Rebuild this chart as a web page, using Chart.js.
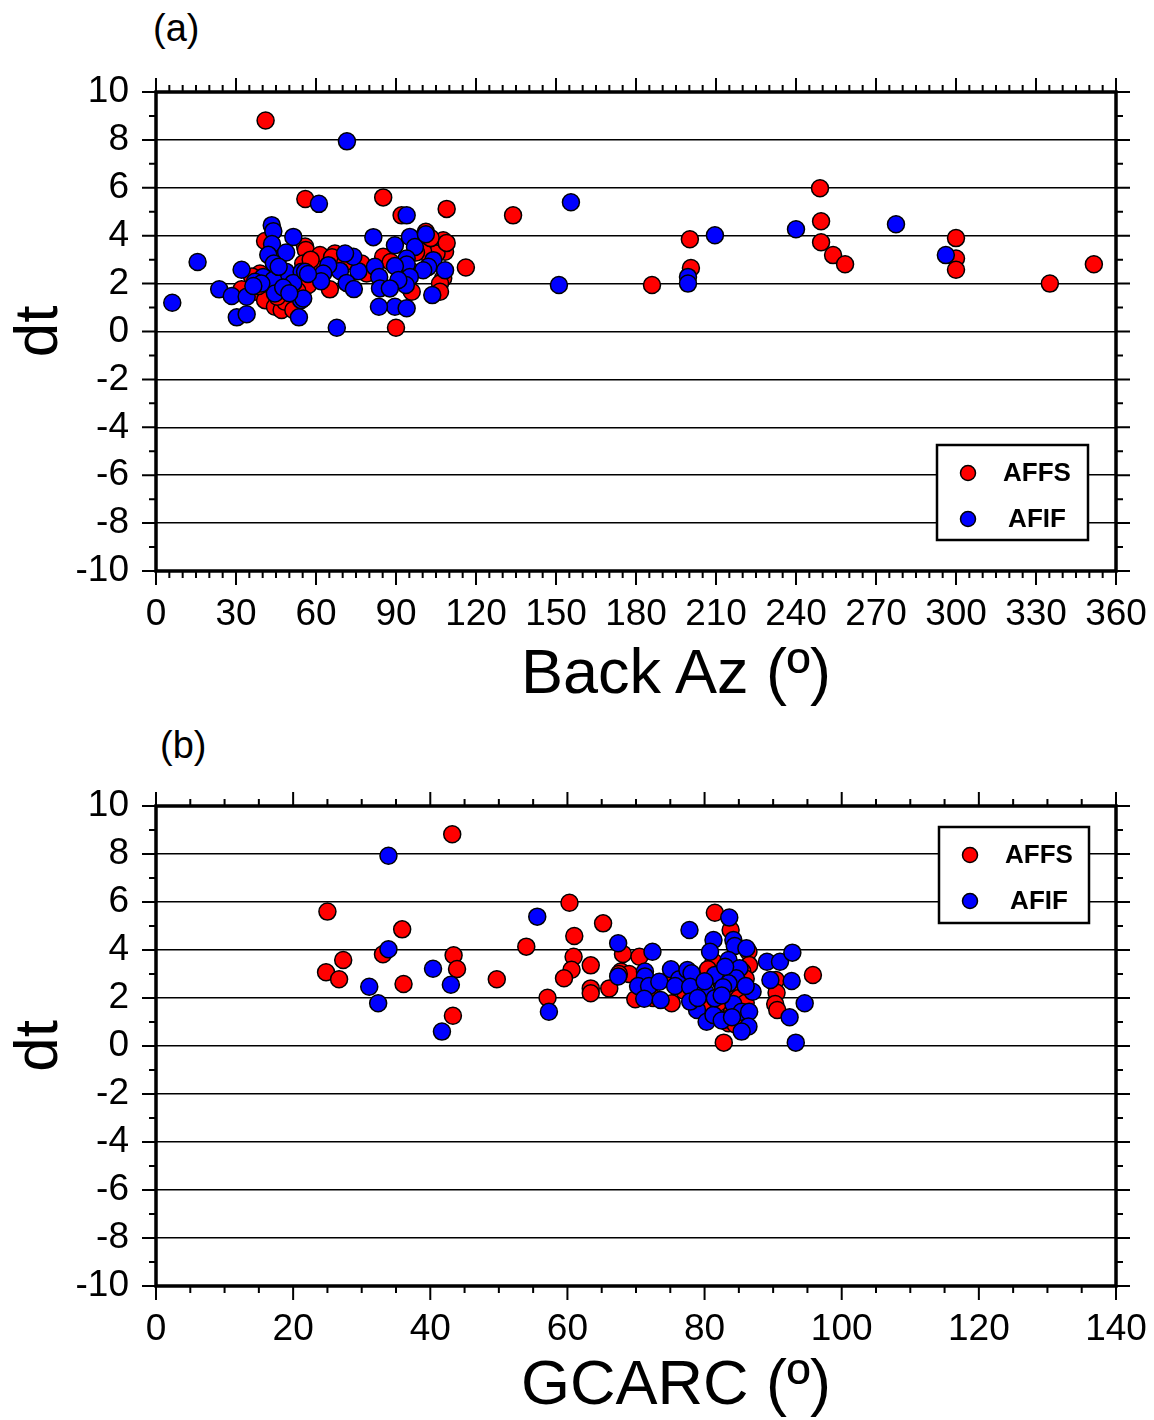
<!DOCTYPE html>
<html>
<head>
<meta charset="utf-8">
<script src="https://cdn.jsdelivr.net/npm/chart.js@4/dist/chart.umd.min.js"></script>
<style>
  body { margin: 0; background: #fff; }
  #wrap { position: relative; width: 1154px; height: 1420px; }
  canvas { position: absolute; left: 0; }
  .panel { position: absolute; font-family: 'Liberation Sans', Arial, sans-serif; font-size: 38px; line-height: 44px; color: #000; }
  .xtitle { position: absolute; left: 376px; width: 600px; text-align: center; font-family: 'Liberation Sans', Arial, sans-serif; font-size: 63px; line-height: 72px; color: #000; }
</style>
</head>
<body>
<div id="wrap">
  <div class="panel" style="left:153px; top:6px;">(a)</div>
  <canvas id="chartA" width="1154" height="710" style="top:0px;"></canvas>
  <div class="xtitle" style="top:635px;">Back Az (º)</div>
  <div class="panel" style="left:160px; top:723px;">(b)</div>
  <canvas id="chartB" width="1154" height="710" style="top:710px;"></canvas>
  <div class="xtitle" style="top:1346px;">GCARC (º)</div>
</div>
<script>
// panel (a): back azimuth vs dt
const bazAFFS = [41.1, 56.0, 85.2, 92.1, 109.0, 116.2, 133.9, 186.0, 200.2, 200.6,
    249.0, 249.4, 249.4, 253.9, 258.4, 300.0, 300.0, 300.0, 335.2, 351.7,
    40.9, 55.9, 56.2, 39.0, 55.9, 32.1, 37.1, 40.9, 44.6, 47.1,
    48.4, 51.5, 90.0, 101.2, 107.7, 108.4, 104.0, 105.2, 100.2, 107.7,
    106.5, 106.5, 85.2, 95.9, 79.0, 77.1, 67.1, 61.5, 57.1, 65.2,
    46.5, 55.2, 66.0, 49.0, 42.5, 36.0, 60.5, 71.0, 88.0, 97.5,
    92.0, 45.5, 53.0, 38.5, 58.0, 103.0, 109.0, 96.0];
const dtAFFS_a = [8.81, 5.53, 5.60, 4.85, 5.12, 2.67, 4.85, 1.94, 3.85, 2.65,
    5.98, 4.60, 3.73, 3.19, 2.81, 3.90, 3.05, 2.58, 2.00, 2.81,
    3.78, 3.55, 3.40, 2.42, 2.80, 1.76, 1.66, 1.31, 1.03, 0.90,
    1.24, 0.90, 0.16, 4.16, 3.81, 3.33, 3.53, 3.26, 3.33, 2.22,
    2.00, 1.66, 3.12, 1.66, 2.42, 2.84, 3.26, 3.19, 1.94, 1.76,
    3.19, 2.84, 3.10, 2.20, 2.00, 2.30, 2.60, 2.90, 2.90, 3.30,
    2.30, 1.45, 1.70, 1.90, 3.00, 3.90, 3.70, 2.50];

const bazAFIF = [71.6, 61.1, 155.6, 151.1, 199.5, 199.5, 209.6, 240.0, 277.5, 296.2,
    43.4, 44.0, 43.5, 51.5, 48.8, 42.1, 44.2, 15.6, 32.1, 48.7,
    40.2, 37.1, 54.6, 44.0, 51.5, 23.7, 28.4, 34.0, 44.6, 47.7,
    54.4, 53.6, 30.3, 34.0, 6.1, 81.5, 89.6, 95.2, 97.1, 101.2,
    104.0, 102.1, 108.4, 100.2, 103.6, 94.0, 94.0, 89.6, 95.2, 93.7,
    90.9, 89.6, 94.0, 67.8, 83.6, 82.1, 83.7, 84.0, 87.7, 75.9,
    74.0, 70.9, 69.0, 64.6, 62.7, 55.9, 61.9, 71.5, 74.2, 55.2,
    94.0, 46.0, 57.0, 50.0, 39.5, 36.5];
const dtAFIF_a = [7.94, 5.33, 5.40, 1.94, 2.28, 2.00, 4.02, 4.27, 4.48, 3.19,
    4.44, 4.19, 3.65, 3.95, 3.30, 3.20, 2.84, 2.90, 2.58, 2.50,
    2.28, 2.08, 2.49, 2.15, 2.03, 1.76, 1.48, 1.45, 1.59, 1.84,
    1.31, 0.59, 0.59, 0.72, 1.20, 3.94, 3.60, 3.95, 3.53, 4.06,
    2.98, 2.70, 2.56, 2.56, 1.52, 3.05, 2.80, 2.73, 2.28, 1.94,
    2.15, 1.03, 0.97, 0.16, 1.03, 2.70, 2.28, 1.80, 1.80, 2.52,
    3.12, 3.26, 2.53, 2.77, 2.42, 2.49, 2.10, 2.03, 1.77, 1.38,
    4.85, 2.70, 2.40, 1.60, 2.00, 1.90];

// panel (b): epicentral distance vs dt
const gcarcAFFS = [43.2, 25.0, 35.9, 33.1, 27.3, 24.8, 26.7, 36.1, 43.4, 43.9,
    43.3, 49.7, 54.0, 60.3, 61.0, 65.2, 60.9, 60.6, 59.5, 63.4,
    63.4, 63.4, 57.1, 66.1, 68.1, 70.5, 67.8, 69.9, 75.2, 79.6,
    81.3, 81.5, 83.8, 86.4, 86.5, 83.5, 82.8, 95.8, 90.4, 90.5,
    90.3, 90.6, 80.5, 82.0, 82.5, 84.5, 85.0, 84.0, 81.0, 83.0,
    85.5, 86.0, 79.0, 80.0, 82.0, 86.0, 77.0, 84.5, 69.0, 75.0,
    67.5, 72.5];
const dtAFFS_b = [8.82, 5.60, 4.86, 3.82, 3.58, 3.07, 2.78, 2.58, 3.78, 3.21,
    1.26, 2.78, 4.14, 5.97, 4.58, 5.11, 3.72, 3.18, 2.82, 3.36,
    2.40, 2.20, 2.01, 2.40, 3.83, 3.72, 3.10, 1.95, 1.78, 2.75,
    3.51, 5.55, 4.83, 3.93, 3.37, 0.95, 0.14, 2.96, 2.75, 2.22,
    1.75, 1.50, 3.20, 3.00, 2.60, 2.40, 2.00, 1.50, 1.30, 1.10,
    3.10, 2.80, 2.20, 1.60, 1.80, 1.80, 2.30, 0.90, 3.00, 2.80,
    3.00, 2.00];

const gcarcAFIF = [33.9, 33.9, 31.1, 32.4, 40.4, 43.0, 41.7, 55.6, 57.3, 67.4,
    67.4, 77.8, 72.4, 71.3, 71.3, 70.3, 71.9, 73.4, 71.2, 73.6,
    75.1, 76.3, 75.7, 77.5, 78.1, 77.9, 80.1, 78.9, 77.9, 80.3,
    81.3, 81.5, 81.3, 80.8, 83.6, 84.2, 84.4, 86.1, 83.5, 85.1,
    81.5, 84.6, 83.5, 82.7, 87.0, 84.2, 85.4, 86.5, 82.5, 86.4,
    85.4, 89.1, 91.0, 92.8, 89.6, 92.7, 94.6, 92.4, 93.3, 79.0,
    83.0, 82.5, 80.0, 86.0, 84.0];
const dtAFIF_b = [7.93, 4.03, 2.47, 1.78, 3.22, 2.55, 0.60, 5.39, 1.43, 4.28,
    2.90, 4.83, 3.93, 3.10, 2.90, 2.50, 2.50, 2.68, 1.97, 1.92,
    3.20, 2.78, 2.50, 3.17, 3.03, 2.47, 2.26, 1.50, 1.85, 1.01,
    1.29, 1.99, 4.42, 3.93, 5.35, 4.42, 4.17, 4.07, 3.58, 3.24,
    2.96, 2.82, 2.61, 2.45, 2.26, 1.75, 1.43, 1.43, 1.06, 0.81,
    0.60, 3.51, 3.51, 3.89, 2.75, 2.71, 1.78, 1.20, 0.14, 2.00,
    3.30, 2.10, 2.70, 2.50, 1.20];

const dtTicks = [-10, -8, -6, -4, -2, 0, 2, 4, 6, 8, 10];
const seriesNames = ['AFFS', 'AFIF'];
const seriesColors = ['#ff0000', '#0000ff'];

const FONT = "'Liberation Sans', Arial, sans-serif";
Chart.defaults.font.family = FONT;
Chart.defaults.color = '#000';

function toPoints(xs, ys) {
    const pts = [];
    for (let i = 0; i < xs.length; i++) {
        pts.push({ x: xs[i], y: ys[i] });
    }
    return pts;
}

// frame, outward ticks on all four sides, and the boxed legend
const frameTicks = {
    id: 'frameTicks',
    afterDraw(chart, args, opts) {
        const ctx = chart.ctx;
        const a = chart.chartArea;
        const x = chart.scales.x;
        const y = chart.scales.y;
        ctx.save();
        ctx.strokeStyle = '#000';
        ctx.lineWidth = 2;
        ctx.beginPath();
        for (let v = x.min; v <= x.max + 1e-9; v += opts.xMinor) {
            const px = x.getPixelForValue(v);
            const major = Math.abs(v / opts.xMajor - Math.round(v / opts.xMajor)) < 1e-6;
            const len = major ? 14 : 7;
            ctx.moveTo(px, a.bottom);
            ctx.lineTo(px, a.bottom + len);
            ctx.moveTo(px, a.top);
            ctx.lineTo(px, a.top - len);
        }
        for (let v = y.min; v <= y.max + 1e-9; v += 1) {
            const py = y.getPixelForValue(v);
            const len = (Math.abs(v) % 2 === 0) ? 14 : 7;
            ctx.moveTo(a.left, py);
            ctx.lineTo(a.left - len, py);
            ctx.moveTo(a.right, py);
            ctx.lineTo(a.right + len, py);
        }
        ctx.stroke();
        ctx.lineWidth = 3.5;
        ctx.strokeRect(a.left, a.top, a.right - a.left, a.bottom - a.top);

        // legend
        const b = opts.box;
        ctx.fillStyle = '#fff';
        ctx.fillRect(b.left, b.top, b.width, b.height);
        ctx.lineWidth = 2.5;
        ctx.strokeRect(b.left, b.top, b.width, b.height);
        ctx.font = 'bold 26px ' + FONT;
        ctx.textAlign = 'center';
        ctx.textBaseline = 'middle';
        for (let i = 0; i < seriesNames.length; i++) {
            const cy = b.top + 28 + i * 46;
            ctx.beginPath();
            ctx.arc(b.left + 31, cy, 7.5, 0, Math.PI * 2);
            ctx.fillStyle = seriesColors[i];
            ctx.fill();
            ctx.lineWidth = 1.5;
            ctx.stroke();
            ctx.fillStyle = '#000';
            ctx.fillText(seriesNames[i], b.left + 100, cy + 1);
        }
        ctx.restore();
    }
};

function makeChart(canvasId, cfg) {
    const ctx = document.getElementById(canvasId).getContext('2d');
    return new Chart(ctx, {
        type: 'scatter',
        data: {
            datasets: [{
                label: seriesNames[0],
                data: toPoints(cfg.redX, cfg.redY),
                backgroundColor: seriesColors[0],
                borderColor: '#000',
                borderWidth: 1.5,
                pointRadius: 8.5,
                order: 2
            }, {
                label: seriesNames[1],
                data: toPoints(cfg.blueX, cfg.blueY),
                backgroundColor: seriesColors[1],
                borderColor: '#000',
                borderWidth: 1.5,
                pointRadius: 8.5,
                order: 1
            }]
        },
        options: {
            responsive: false,
            animation: false,
            layout: { padding: { top: cfg.top, right: 38, left: 0, bottom: 0 } },
            plugins: {
                legend: { display: false },
                tooltip: { enabled: false },
                frameTicks: { xMinor: cfg.xMinor, xMajor: cfg.xStep, box: cfg.box }
            },
            scales: {
                x: {
                    type: 'linear',
                    min: cfg.xMin,
                    max: cfg.xMax,
                    afterFit: function (s) {
                        s.height = cfg.xHeight;
                        s.paddingLeft = 0;
                        s.paddingRight = 0;
                    },
                    ticks: {
                        stepSize: cfg.xStep,
                        autoSkip: false,
                        maxRotation: 0,
                        padding: 14,
                        color: '#000',
                        font: { size: 37 }
                    },
                    grid: { display: false },
                    border: { display: false }
                },
                y: {
                    min: -10,
                    max: 10,
                    afterFit: function (s) { s.width = 156; },
                    afterBuildTicks: function (s) { s.ticks = dtTicks.map(v => ({ value: v })); },
                    ticks: {
                        padding: 27,
                        color: '#000',
                        font: { size: 37 }
                    },
                    grid: { color: '#000', lineWidth: 1.5, drawTicks: false },
                    border: { display: false },
                    title: {
                        display: true,
                        text: 'dt',
                        color: '#000',
                        font: { size: 62 },
                        padding: { top: 3, bottom: 0 }
                    }
                }
            }
        },
        plugins: [frameTicks]
    });
}

makeChart('chartA', {
    redX: bazAFFS, redY: dtAFFS_a, blueX: bazAFIF, blueY: dtAFIF_a,
    xMin: 0, xMax: 360, xStep: 30, xMinor: 5,
    top: 92, xHeight: 139,
    box: { left: 937, top: 445, width: 151, height: 95 }
});

makeChart('chartB', {
    redX: gcarcAFFS, redY: dtAFFS_b, blueX: gcarcAFIF, blueY: dtAFIF_b,
    xMin: 0, xMax: 140, xStep: 20, xMinor: 5,
    top: 96, xHeight: 134,
    box: { left: 939, top: 117, width: 150, height: 96 }
});
</script>
</body>
</html>
